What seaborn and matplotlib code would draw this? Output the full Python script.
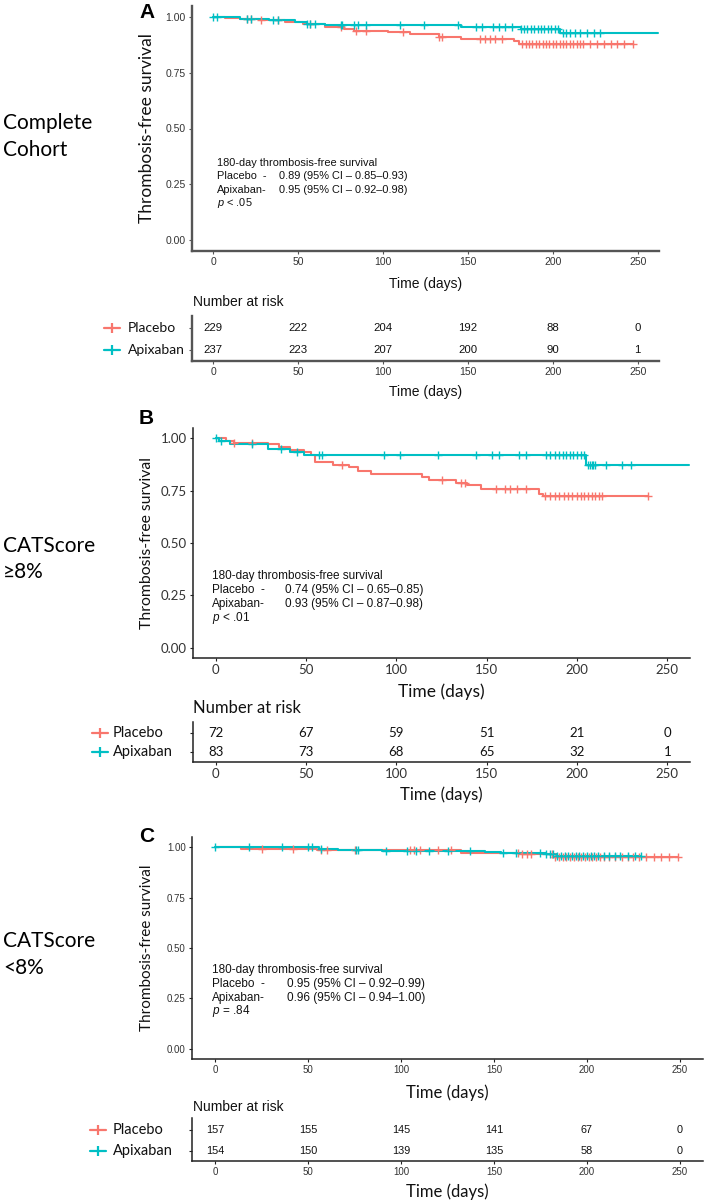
import numpy as np
import matplotlib
matplotlib.use("Agg")
import matplotlib.pyplot as plt
import seaborn as sns
from matplotlib import transforms

# ---------------- data ----------------
risk_times = [0, 50, 100, 150, 200, 250]
arms = ["Placebo", "Apixaban"]

# Panel A - complete cohort
A_pla_events = [7, 16, 27, 42, 53, 66, 77, 83, 103, 116, 133, 146, 177, 180]
A_pla_surv = [0.995, 0.99, 0.985, 0.978, 0.967, 0.955, 0.948, 0.94, 0.933, 0.925, 0.913, 0.903, 0.895, 0.88]
A_pla_end = 247
A_pla_censor = [20, 22, 28, 38, 57, 75, 84, 90, 112, 133, 135, 157, 160, 163, 166, 170, 182, 184, 186, 188,
                190, 192, 194, 196, 198, 200, 202, 204, 206, 208, 210, 212, 214, 216, 218, 222, 226, 230,
                234, 238, 242, 247]
A_api_events = [16, 33, 48, 55, 66, 146, 181, 204]
A_api_surv = [0.992, 0.985, 0.978, 0.97, 0.965, 0.955, 0.948, 0.93]
A_api_end = 262
A_api_censor = [0, 2, 20, 22, 35, 38, 55, 57, 60, 75, 76, 83, 85, 90, 110, 124, 144, 155, 158, 165, 168, 172,
                176, 181, 183, 185, 187, 189, 191, 193, 195, 197, 199, 201, 203, 206, 208, 210, 213, 216,
                220, 224, 228]
A_risk_pla = [229, 222, 204, 192, 88, 0]
A_risk_api = [237, 223, 207, 200, 90, 1]
A_text = ["0.89 (95% CI \u2013 0.85\u20130.93)", "0.95 (95% CI \u2013 0.92\u20130.98)", "< .05"]

# Panel B - CATScore >= 8%
B_pla_events = [6, 10, 29, 35, 41, 49, 53, 55, 65, 74, 79, 86, 114, 118, 133, 139, 147, 179, 181]
B_pla_surv = [0.99, 0.98, 0.973, 0.957, 0.945, 0.933, 0.92, 0.889, 0.875, 0.862, 0.846, 0.83, 0.817, 0.803,
              0.789, 0.778, 0.76, 0.735, 0.724]
B_pla_end = 239
B_pla_censor = [10, 20, 70, 125, 136, 138, 155, 160, 163, 167, 172, 182, 185, 188, 190, 193, 195, 197, 200,
                202, 204, 206, 208, 210, 212, 214, 239]
B_api_events = [2, 8, 29, 41, 49, 205]
B_api_surv = [0.99, 0.973, 0.95, 0.933, 0.922, 0.873]
B_api_end = 262
B_api_censor = [0, 3, 20, 36, 45, 57, 59, 93, 102, 123, 144, 153, 157, 168, 172, 183, 185, 188, 190, 192,
                194, 196, 198, 200, 202, 204, 206, 207, 208, 209, 210, 216, 225, 230]
B_risk_pla = [72, 67, 59, 51, 21, 0]
B_risk_api = [83, 73, 68, 65, 32, 1]
B_text = ["0.74 (95% CI \u2013 0.65\u20130.85)", "0.93 (95% CI \u2013 0.87\u20130.98)", "< .01"]

# Panel C - CATScore < 8%
C_pla_events = [14, 55, 132, 165, 182]
C_pla_surv = [0.992, 0.984, 0.97, 0.965, 0.951]
C_pla_end = 249
C_pla_censor = [25, 42, 57, 60, 75, 105, 107, 110, 120, 127, 163, 165, 168, 170, 181, 183, 185, 187, 189,
                191, 193, 195, 197, 199, 201, 203, 205, 207, 209, 212, 215, 219, 222, 225, 228, 232, 236,
                240, 244, 249]
C_api_events = [56, 66, 90, 145, 154, 178, 184]
C_api_surv = [0.992, 0.987, 0.98, 0.975, 0.97, 0.964, 0.958]
C_api_end = 229
C_api_censor = [0, 18, 36, 50, 52, 57, 76, 77, 92, 103, 108, 115, 125, 137, 155, 162, 175, 178, 180, 182,
                184, 186, 188, 190, 192, 194, 196, 198, 200, 202, 204, 206, 209, 212, 215, 218, 222, 226, 229]
C_risk_pla = [157, 155, 145, 141, 67, 0]
C_risk_api = [154, 150, 139, 135, 58, 0]
C_text = ["0.95 (95% CI \u2013 0.92\u20130.99)", "0.96 (95% CI \u2013 0.94\u20131.00)", "= .84"]

group_labels = [["Complete", "Cohort"], ["CATScore", "\u22658%"], ["CATScore", "<8%"]]
panel_letters = ["A", "B", "C"]

# ---------------- style ----------------
RED = "#F8766D"
TEAL = "#00BFC4"
sns.set_theme(style="white")
plt.rcParams["font.family"] = ["Liberation Sans", "DejaVu Sans"]
plt.rcParams["mathtext.fontset"] = "custom"
plt.rcParams["mathtext.it"] = "Liberation Sans:italic"
plt.rcParams["mathtext.rm"] = "Liberation Sans"

W, H, DPI = 709, 1202, 100
fig = plt.figure(figsize=(W / DPI, H / DPI), dpi=DPI)
fig.patch.set_facecolor("white")

CAL = ["Lato", "DejaVu Sans"]
ARI = ["Liberation Sans", "DejaVu Sans"]


def fx(x):
    return x / W


def fy(y):
    return 1 - y / H


def add_ax(x0, y0, x1, y1):
    return fig.add_axes([x0 / W, 1 - y1 / H, (x1 - x0) / W, (y1 - y0) / H])


def km(ax, events, surv, end, censor, color):
    t = np.r_[0, events, end]
    s = np.r_[1.0, surv, surv[-1]]
    sns.lineplot(x=t, y=s, drawstyle="steps-post", color=color, lw=1.5, ax=ax,
                 estimator=None, sort=False, legend=False)
    idx = np.searchsorted(np.asarray(events), np.asarray(censor), side="right")
    cs = np.r_[1.0, surv][idx]
    sns.scatterplot(x=censor, y=cs, marker="+", s=34, color=color, linewidth=1.0,
                    ax=ax, legend=False, zorder=3)


def style_axes(ax, spine_col, spine_w):
    for sp in ["top", "right"]:
        ax.spines[sp].set_visible(False)
    for sp in ["left", "bottom"]:
        ax.spines[sp].set_color(spine_col)
        ax.spines[sp].set_linewidth(spine_w)
    ax.tick_params(axis="both", which="both", length=2.5, width=0.8, color=spine_col,
                   pad=2, bottom=True, left=True)
    ax.set_facecolor("white")
    ax.grid(False)


panels = [
    dict(box=(192, 6, 659, 251), tbox=(192, 316, 659, 361),
         pla=(A_pla_events, A_pla_surv, A_pla_end, A_pla_censor),
         api=(A_api_events, A_api_surv, A_api_end, A_api_censor),
         risk=(A_risk_pla, A_risk_api), text=A_text, tx=2, ty=[0.345, 0.285, 0.225, 0.165],
         spine=("#555555", 1.7), tickfam=ARI, tickfs=7.5, xlab_fam=ARI, xlab_fs=10,
         xlab_y=284, numfam=ARI, numfs=8.2, nar_fam=ARI, nar_fs=10, nar_y=302,
         ttime_fam=ARI, ttime_fs=10, ttime_y=392, leg_fam=CAL, leg_fs=10,
         mark_x=112, lab_x=128, letter_y=13, grp_y=(123, 150), ann_fs=7.9, ylab_fs=12.5),
    dict(box=(193, 428, 690, 658), tbox=(193, 722, 690, 762),
         pla=(B_pla_events, B_pla_surv, B_pla_end, B_pla_censor),
         api=(B_api_events, B_api_surv, B_api_end, B_api_censor),
         risk=(B_risk_pla, B_risk_api), text=B_text, tx=-2, ty=[0.343, 0.276, 0.208, 0.14],
         spine=("#222222", 1.1), tickfam=CAL, tickfs=9.5, xlab_fam=CAL, xlab_fs=12.5,
         xlab_y=692, numfam=CAL, numfs=9.5, nar_fam=CAL, nar_fs=12, nar_y=708,
         ttime_fam=CAL, ttime_fs=12, ttime_y=795, leg_fam=CAL, leg_fs=10.5,
         mark_x=100, lab_x=113, letter_y=418, grp_y=(546, 572), ann_fs=8.5, ylab_fs=11.3),
    dict(box=(192, 837, 703, 1059), tbox=(192, 1118, 703, 1161),
         pla=(C_pla_events, C_pla_surv, C_pla_end, C_pla_censor),
         api=(C_api_events, C_api_surv, C_api_end, C_api_censor),
         risk=(C_risk_pla, C_risk_api), text=C_text, tx=-2, ty=[0.39, 0.322, 0.254, 0.186],
         spine=("#222222", 1.1), tickfam=ARI, tickfs=7, xlab_fam=CAL, xlab_fs=12,
         xlab_y=1093, numfam=ARI, numfs=7.8, nar_fam=ARI, nar_fs=10, nar_y=1107,
         ttime_fam=CAL, ttime_fs=12, ttime_y=1192, leg_fam=CAL, leg_fs=10.5,
         mark_x=98, lab_x=113, letter_y=836, grp_y=(941, 968), ann_fs=8.5, ylab_fs=11),
]

for k, p in enumerate(panels):
    x0, y0, x1, y1 = p["box"]
    ax = add_ax(x0, y0, x1, y1)
    km(ax, *p["pla"], RED)
    km(ax, *p["api"], TEAL)
    ax.set_xlim(-12.5, 262.5)
    ax.set_ylim(-0.05, 1.05)
    ax.set_xticks(risk_times)
    ax.set_xticklabels([str(t) for t in risk_times])
    ax.set_yticks([0, 0.25, 0.5, 0.75, 1.0])
    ax.set_yticklabels(["0.00", "0.25", "0.50", "0.75", "1.00"])
    ax.set_xlabel("")
    ax.set_ylabel("")
    style_axes(ax, *p["spine"])
    for lab in ax.get_xticklabels() + ax.get_yticklabels():
        lab.set_fontfamily(p["tickfam"])
        lab.set_fontsize(p["tickfs"])
        lab.set_color("#333333")

    # annotation block
    fs = p["ann_fs"]
    ax.text(p["tx"], p["ty"][0], "180-day thrombosis-free survival", fontsize=fs, family=ARI,
            va="center", color="#111111")
    ax.text(p["tx"], p["ty"][1], "Placebo  -", fontsize=fs, family=ARI, va="center", color="#111111")
    ax.text(p["tx"], p["ty"][2], "Apixaban-", fontsize=fs, family=ARI, va="center", color="#111111")
    ax.text(38.5, p["ty"][1], p["text"][0], fontsize=fs, family=ARI, va="center", color="#111111")
    ax.text(38.5, p["ty"][2], p["text"][1], fontsize=fs, family=ARI, va="center", color="#111111")
    ax.text(p["tx"], p["ty"][3], "$p$ " + p["text"][2], fontsize=fs, family=ARI, va="center",
            color="#111111")

    # axis labels
    fig.text(fx(147), fy((y0 + y1) / 2), "Thrombosis-free survival", rotation=90, ha="center",
             va="center", fontsize=p["ylab_fs"], family=CAL, color="#111111")
    fig.text(fx((x0 + x1) / 2), fy(p["xlab_y"]), "Time (days)", ha="center", va="center",
             fontsize=p["xlab_fs"], family=p["xlab_fam"], color="#111111")

    # panel letter and group label
    fig.text(fx(139), fy(p["letter_y"]), panel_letters[k], ha="left", va="center", fontsize=15,
             fontweight="bold", family=ARI, color="black")
    for line, gy in zip(group_labels[k], p["grp_y"]):
        fig.text(fx(3), fy(gy), line, ha="left", va="center", fontsize=15, family=CAL, color="black")

    # risk table
    tx0, ty0, tx1, ty1 = p["tbox"]
    tax = add_ax(tx0, ty0, tx1, ty1)
    for i, vals in enumerate(p["risk"]):
        for t, v in zip(risk_times, vals):
            tax.text(t, i, str(v), ha="center", va="center", fontsize=p["numfs"],
                     family=p["numfam"], color="#111111")
    tax.set_xlim(-12.5, 262.5)
    tax.set_ylim(1.5, -0.55)
    tax.set_xticks(risk_times)
    tax.set_xticklabels([str(t) for t in risk_times])
    tax.set_yticks([0, 1])
    tax.set_yticklabels([])
    style_axes(tax, *p["spine"])
    for lab in tax.get_xticklabels():
        lab.set_fontfamily(p["tickfam"])
        lab.set_fontsize(p["tickfs"])
        lab.set_color("#333333")
    fig.text(fx(193), fy(p["nar_y"]), "Number at risk", ha="left", va="center",
             fontsize=p["nar_fs"], family=p["nar_fam"], color="#111111")
    fig.text(fx((tx0 + tx1) / 2), fy(p["ttime_y"]), "Time (days)", ha="center", va="center",
             fontsize=p["ttime_fs"], family=p["ttime_fam"], color="#111111")
    blend = transforms.blended_transform_factory(fig.transFigure, tax.transData)
    for i, (name, col) in enumerate(zip(arms, [RED, TEAL])):
        mx = p["mark_x"]
        tax.plot([fx(mx - 8), fx(mx), fx(mx + 8)], [i, i, i], color=col, lw=1.6, marker="|",
                 markevery=[1], ms=7, mew=1.6, transform=blend, clip_on=False)
        tax.text(fx(p["lab_x"]), i, name, transform=blend, ha="left", va="center",
                 fontsize=p["leg_fs"], family=p["leg_fam"], color="#111111")

fig.savefig("out.png", dpi=DPI, facecolor="white")
